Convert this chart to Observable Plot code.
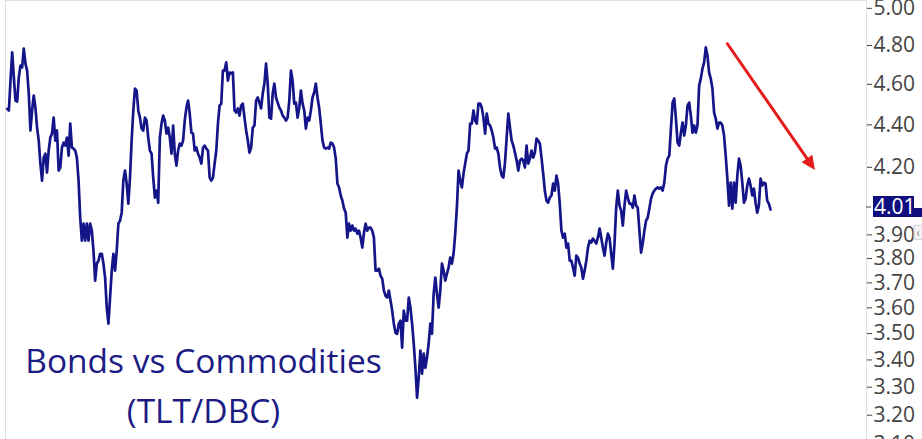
<!DOCTYPE html>
<html>
<head>
<meta charset="utf-8">
<script src="https://cdn.jsdelivr.net/npm/d3@7"></script>
<script src="https://cdn.jsdelivr.net/npm/@observablehq/plot@0.6"></script>
<style>
  html, body { margin: 0; padding: 0; background: #fff; }
  #chart svg { display: block; }
</style>
</head>
<body>
<div id="chart"></div>
<script>
// TLT/DBC ratio (oldest to newest)
const ratio = [
  4.478,4.470,4.619,4.764,4.635,4.519,4.514,4.635,4.696,4.686,
  4.784,4.706,4.670,4.554,4.373,4.470,4.544,4.484,4.387,4.325,
  4.217,4.139,4.245,4.263,4.176,4.278,4.339,4.358,4.435,4.325,
  4.373,4.185,4.199,4.292,4.315,4.301,4.339,4.254,4.406,4.292,
  4.287,4.278,4.245,4.139,3.974,3.875,3.948,3.875,3.948,3.875,
  3.948,3.918,3.833,3.709,3.779,3.791,3.820,3.820,3.779,3.721,
  3.601,3.538,3.641,3.750,3.820,3.750,3.833,3.948,3.961,3.996,
  4.139,4.185,4.126,4.036,
  4.153,4.325,4.470,4.579,4.569,4.470,4.435,4.382,4.373,4.435,
  4.421,4.339,4.278,4.263,4.153,4.063,4.094,4.040,4.339,4.406,
  4.445,4.421,4.358,4.387,4.339,4.263,4.397,4.263,4.208,4.278,
  4.311,4.301,4.325,4.421,4.484,4.519,4.455,4.363,4.358,4.278,
  4.292,4.263,4.245,4.217,4.292,4.301,4.287,4.278,4.153,4.139,
  4.153,4.217,4.278,4.406,4.494,4.504,4.670,4.670,4.712,4.619,
  4.660,4.655,4.660,4.470,4.460,4.480,4.445,4.494,4.504,4.435,
  4.373,4.325,4.268,4.292,4.387,4.397,4.519,
  4.534,4.509,4.480,4.554,4.604,4.706,4.604,4.435,4.430,4.554,
  4.604,4.534,4.509,4.484,4.470,4.445,4.435,4.421,4.435,4.519,
  4.670,4.619,4.504,4.509,4.435,4.484,4.569,4.504,4.470,4.382,
  4.435,4.421,4.470,4.534,4.559,4.604,4.534,4.484,4.406,4.325,
  4.292,4.287,4.292,4.287,4.315,4.311,4.292,4.240,4.126,4.108,
  4.072,4.049,4.014,3.996,3.888,3.948,3.918,3.940,3.918,3.927,
  3.905,3.918,3.888,3.846,3.909,3.948,3.918,3.931,3.931,3.918,
  3.888,3.750,3.750,3.758,3.729,3.717,3.669,3.648,3.641,
  3.669,3.629,3.589,3.538,3.503,3.499,3.538,3.550,3.446,3.589,
  3.550,3.550,3.641,3.601,3.538,3.462,3.371,3.262,3.335,3.435,
  3.349,3.424,3.371,3.409,3.462,3.538,3.499,3.656,3.721,3.656,
  3.601,3.669,3.779,3.750,3.709,3.737,3.762,3.804,3.779,3.820,
  3.905,4.018,4.185,4.139,4.108,4.171,4.217,4.263,4.278,4.406,
  4.406,4.470,4.421,4.406,4.504,4.504,4.484,4.435,4.358,4.455,
  4.406,4.397,4.373,4.339,4.287,4.292,4.263,4.199,4.162,4.153,
  4.222,4.339,4.455,4.387,4.325,4.301,4.268,4.231,
  4.185,4.231,4.240,4.231,4.199,4.301,4.217,4.240,4.278,4.245,
  4.268,4.334,4.325,4.311,4.245,4.171,4.094,4.049,4.040,4.063,
  4.072,4.126,4.094,4.162,4.126,4.036,3.918,3.888,3.905,3.846,
  3.863,3.791,3.791,3.762,3.729,3.812,3.804,3.779,3.762,3.717,
  3.750,3.791,3.846,3.875,3.867,3.884,3.875,3.863,3.888,3.927,
  3.888,3.846,3.812,3.867,3.905,3.888,3.820,3.758,3.863,4.018,
  4.094,4.027,4.005,3.940,4.027,4.094,4.063,4.036,4.036,4.018,
  4.072,4.027,4.018,3.918,3.825,3.863,3.918,3.961,3.974,4.014,
  4.058,4.081,4.094,4.103,4.108,4.103,4.108,4.094,4.130,4.208,
  4.240,4.254,4.382,4.509,4.529,4.430,4.315,4.301,4.363,4.411,
  4.349,4.397,4.494,4.509,4.445,4.363,4.397,4.363,4.397,4.594,
  4.629,4.680,4.712,4.790,4.748,4.660,4.629,4.579,4.460,4.430,
  4.382,4.411,4.411,4.397,4.349,4.254,4.148,4.027,4.130,4.014,
  4.130,4.040,4.162,4.240,4.208,4.130,4.040,4.058,4.117,4.148,
  4.117,4.072,4.103,4.040,3.996,4.027,4.148,4.117,4.130,4.126,
  4.049,4.036,4.010
];

// Right-axis tick values
const yTicks = [3.1, 3.2, 3.3, 3.4, 3.5, 3.6, 3.7, 3.8, 3.9, 4.2, 4.4, 4.6, 4.8, 5.0];
const yDomain = [3.116, 5.043];

// Annotation texts
const lastLabel = "4.01";
const titleText = "Bonds vs Commodities\n(TLT/DBC)";

// Red trend arrow (session index, ratio value)
const arrowStart = [433.9, 4.812];
const arrowEnd = [487.1, 4.185];

// ---------- styling ----------
const NAVY_LINE = "#15158a";
const NAVY_TEXT = "#1c1c84";
const NAVY_BOX = "#0f0f80";
const RED = "#e41c1c";
const FONT = "'Open Sans', 'Noto Sans', sans-serif";

const W = 922, H = 439;
const marginLeft = 5, marginRight = 56;
const N = ratio.length - 1;
const firstPx = 6.7, lastPx = 770;
const pxPerStep = (lastPx - firstPx) / N;
const x0 = -(firstPx - marginLeft) / pxPerStep;
const x1 = x0 + (W - marginRight - marginLeft) / pxPerStep;

const series = ratio.map((v, i) => ({i, v}));

function lastValueLabel(index, scales, values, dimensions) {
  const {width, marginRight} = dimensions;
  const y = scales.y(ratio[ratio.length - 1]) - 2;
  const ax = width - marginRight;
  const g = d3.create("svg:g");
  g.append("line")
    .attr("x1", ax).attr("x2", ax + 5)
    .attr("y1", y).attr("y2", y)
    .attr("stroke", "#444");
  g.append("rect")
    .attr("x", ax + 7).attr("y", y - 11)
    .attr("width", 41).attr("height", 21)
    .attr("fill", NAVY_BOX);
  g.append("rect")
    .attr("x", ax + 48).attr("y", y + 1)
    .attr("width", width - ax - 48).attr("height", 9)
    .attr("fill", NAVY_BOX);
  g.append("text")
    .attr("x", ax + 8).attr("y", y)
    .attr("dy", "0.35em")
    .attr("text-anchor", "start")
    .attr("fill", "#fff")
    .attr("font-size", 21)
    .attr("font-family", FONT)
    .text(lastLabel);
  // small collapse handle at the right edge
  const hy = scales.y(3.9) - 2;
  g.append("rect")
    .attr("x", width - 8).attr("y", hy - 7)
    .attr("width", 9).attr("height", 14)
    .attr("fill", "#f4f4f4").attr("stroke", "#d0d0d0");
  g.append("text")
    .attr("x", width - 4).attr("y", hy)
    .attr("dy", "0.35em").attr("text-anchor", "middle")
    .attr("fill", "#888").attr("font-size", 12)
    .attr("font-family", FONT)
    .text("‹");
  return g.node();
}

function trendArrow(index, scales) {
  const xs = scales.x(arrowStart[0]), ys = scales.y(arrowStart[1]);
  const xe = scales.x(arrowEnd[0]), ye = scales.y(arrowEnd[1]);
  const ang = Math.atan2(ye - ys, xe - xs);
  const hl = 14, hw = 6.5;
  const bx = xe - hl * Math.cos(ang), by = ye - hl * Math.sin(ang);
  const nx = -Math.sin(ang), ny = Math.cos(ang);
  const g = d3.create("svg:g");
  g.append("line")
    .attr("x1", xs).attr("y1", ys)
    .attr("x2", bx + 2 * Math.cos(ang)).attr("y2", by + 2 * Math.sin(ang))
    .attr("stroke", RED).attr("stroke-width", 3);
  g.append("polygon")
    .attr("points", [[xe, ye], [bx + nx * hw, by + ny * hw], [bx - nx * hw, by - ny * hw]].map(p => p.join(",")).join(" "))
    .attr("fill", RED);
  return g.node();
}

const chart = Plot.plot({
  width: W,
  height: H,
  marginLeft,
  marginRight,
  marginTop: 0,
  marginBottom: 0,
  style: {fontFamily: FONT, fontSize: "21px", color: "#444", background: "#fff"},
  x: {domain: [x0, x1], axis: null},
  y: {
    type: "log",
    domain: yDomain,
    ticks: yTicks,
    tickFormat: d3.format(".2f"),
    tickSize: 5,
    tickPadding: 2,
    axis: "right",
    label: null
  },
  marks: [
    Plot.ruleX([x0, x1], {stroke: "#dedede", strokeWidth: 1}),
    Plot.ruleY([yDomain[1]], {stroke: "#dedede", strokeWidth: 1}),
    Plot.line(series, {x: "i", y: "v", stroke: NAVY_LINE, strokeWidth: 2.7, strokeLinejoin: "round"}),
    Plot.text([titleText], {
      frameAnchor: "bottom-left",
      dx: 198,
      dy: -17,
      textAnchor: "middle",
      lineAnchor: "bottom",
      lineHeight: 1.47,
      fontSize: 33.5,
      fontFamily: FONT,
      fill: NAVY_TEXT
    }),
    trendArrow,
    lastValueLabel
  ]
});

document.getElementById("chart").appendChild(chart);
</script>
</body>
</html>
